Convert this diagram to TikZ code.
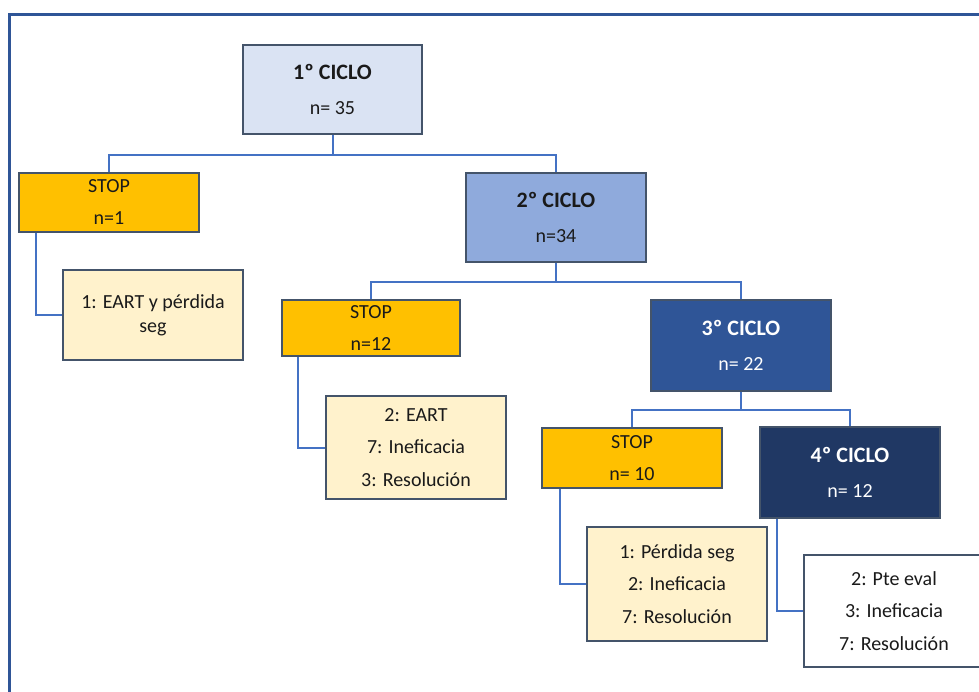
\documentclass[tikz,border=0pt]{standalone}
\usepackage{fontspec}
\setmainfont{Carlito}
\definecolor{cOne}{HTML}{DAE3F3}
\definecolor{cTwo}{HTML}{8FAADC}
\definecolor{cThree}{HTML}{2F5597}
\definecolor{cFour}{HTML}{203864}
\definecolor{stopfill}{HTML}{FFC000}
\definecolor{notefill}{HTML}{FFF2CC}
\definecolor{boxline}{HTML}{44546A}
\definecolor{connline}{HTML}{4472C4}
\definecolor{frameline}{HTML}{2F5597}
\definecolor{txt}{HTML}{1A1A1A}
\tikzset{
  basebox/.style={draw=boxline, line width=1.6pt, inner sep=0pt, align=center, text=txt},
  cyclebox/.style={basebox, minimum width=180pt, minimum height=90pt, font=\fontsize{20}{35}\selectfont},
  stopbox/.style={basebox, fill=stopfill, minimum width=180pt, font=\fontsize{20}{32}\selectfont},
  notebox/.style={basebox, fill=notefill, minimum width=180pt, font=\fontsize{20}{32.5}\selectfont},
  conn/.style={draw=connline, line width=2pt},
  frm/.style={draw=frameline, line width=3pt}
}
\newcommand{\hd}[1]{{\fontsize{22}{35}\selectfont\bfseries #1}}
\begin{document}
\begin{tikzpicture}[x=1pt,y=-1pt]
\useasboundingbox (0,0) rectangle (979,691);
\draw[frm] (9.5,710) -- (9.5,14) -- (995,14);

\node[cyclebox, fill=cOne, minimum width=179pt, minimum height=89pt] (c1) at (332.5,89.5) {\hd{1º CICLO}\\n= 35};
\node[stopbox, minimum height=59pt] (s1) at (109,202.5) {STOP\\n=1};
\node[notebox, minimum height=90pt, font=\fontsize{20}{24}\selectfont] (n1) at (153,315) {1: EART y pérdida\\seg};
\node[cyclebox, fill=cTwo, minimum height=89pt] (c2) at (556,217.5) {\hd{2º CICLO}\\n=34};
\node[stopbox, minimum width=178pt, minimum height=56pt] (s2) at (371,328) {STOP\\n=12};
\node[notebox, minimum height=103pt] (n2) at (416,447.5) {2: EART\\7: Ineficacia\\3: Resolución};
\node[cyclebox, fill=cThree, text=white, minimum height=91pt] (c3) at (741,345.5) {\hd{3º CICLO}\\n= 22};
\node[stopbox, minimum height=60pt] (s3) at (632,458) {STOP\\n= 10};
\node[notebox, minimum height=114pt] (n3) at (677,584) {1: Pérdida seg\\2: Ineficacia\\7: Resolución};
\node[cyclebox, fill=cFour, text=white, minimum height=91pt] (c4) at (850,472.5) {\hd{4º CICLO}\\n= 12};
\node[notebox, fill=white, minimum height=112pt] (n4) at (894,611) {2: Pte eval\\3: Ineficacia\\7: Resolución};

\draw[conn] (c1.south) -- ++(0,20) -| (s1.north);
\draw[conn] (c1.south) -- ++(0,20) -| (c2.north);
\draw[conn] (c2.south) -- ++(0,19) -| (s2.north);
\draw[conn] (c2.south) -- ++(0,19) -| (c3.north);
\draw[conn] (c3.south) -- ++(0,18) -| (s3.north);
\draw[conn] (c3.south) -- ++(0,18) -| (c4.north);
\draw[conn] ([xshift=18pt]s1.south west) |- (n1.west);
\draw[conn] ([xshift=17pt]s2.south west) |- (n2.west);
\draw[conn] ([xshift=19pt]s3.south west) |- (n3.west);
\draw[conn] ([xshift=18pt]c4.south west) |- (n4.west);
\end{tikzpicture}
\end{document}
